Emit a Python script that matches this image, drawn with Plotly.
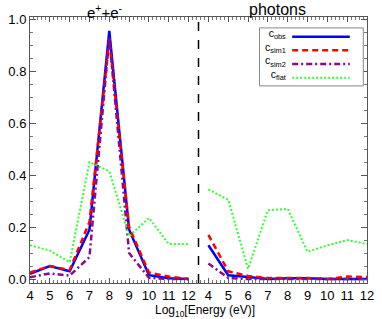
import plotly.graph_objects as go

energy = [4, 5, 6, 7, 8, 9, 10, 11, 12]
tick_labels = ["4", "5", "6", "7", "8", "9", "10", "11", "12"]

# e+ + e- panel
ee_obs = [0.02, 0.05, 0.03, 0.19, 0.955, 0.19, 0.015, 0.003, 0.0]
ee_sim1 = [0.025, 0.05, 0.035, 0.22, 0.92, 0.20, 0.025, 0.01, 0.0]
ee_sim2 = [0.007, 0.022, 0.013, 0.085, 0.93, 0.10, 0.005, 0.0, 0.0]
ee_flat = [0.13, 0.11, 0.065, 0.45, 0.415, 0.165, 0.235, 0.135, 0.135]

# photon panel
ph_obs = [0.13, 0.015, 0.008, 0.0, 0.003, 0.003, 0.0, 0.0, 0.0]
ph_sim1 = [0.17, 0.03, 0.012, 0.004, 0.004, 0.004, 0.0, 0.01, 0.008]
ph_sim2 = [0.06, 0.004, 0.0, 0.0, 0.0, 0.0, 0.0, 0.0, 0.0]
ph_flat = [0.345, 0.305, 0.04, 0.265, 0.27, 0.105, 0.13, 0.15, 0.135]

series = [
    ("c<sub>obs</sub>", ee_obs, ph_obs, "#0000ff", "solid", 2.5),
    ("c<sub>sim1</sub>", ee_sim1, ph_sim1, "#ff0000", "6px,4px", 2.5),
    ("c<sub>sim2</sub>", ee_sim2, ph_sim2, "#8b0a8b", "6px,3px,2px,3px", 2.5),
    ("c<sub>flat</sub>", ee_flat, ph_flat, "#33ff33", "2px,2px", 2),
]

OFFSET_L = -4   # left panel: 4..12 -> 0..8
OFFSET_R = 5    # right panel: 4..12 -> 9..17

fig = go.Figure()
for name, ee, ph, col, dash, w in series:
    fig.add_trace(go.Scatter(x=[e + OFFSET_L for e in energy], y=ee, mode="lines",
                             line=dict(color=col, dash=dash, width=w), showlegend=False))
    fig.add_trace(go.Scatter(x=[e + OFFSET_R for e in energy], y=ph, mode="lines",
                             line=dict(color=col, dash=dash, width=w), showlegend=False))

tickvals = [e + OFFSET_L for e in energy] + [e + OFFSET_R for e in energy]
ticktext = tick_labels + tick_labels

fig.add_vline(x=8.5, line=dict(color="black", dash="dash", width=1.5))

font = "Liberation Sans, Arial, sans-serif"
fig.update_layout(
    width=382, height=319,
    margin=dict(l=23, r=8, t=17, b=36),
    paper_bgcolor="white", plot_bgcolor="white",
    font=dict(family=font, size=13, color="black"),
    xaxis=dict(range=[0, 17], tickmode="array", tickvals=tickvals, ticktext=ticktext,
               showgrid=False, zeroline=False, showline=True, linecolor="#555",
               linewidth=1, mirror="allticks", ticks="inside", ticklen=5,
               tickcolor="#555",
               minor=dict(dtick=0.2, tick0=0, ticks="inside", ticklen=3, tickcolor="#777"),
               tickfont=dict(size=13)),
    yaxis=dict(range=[-0.015, 1.008], tickmode="array",
               tickvals=[0, 0.2, 0.4, 0.6, 0.8, 1.0],
               ticktext=["0.0", "0.2", "0.4", "0.6", "0.8", "1.0"],
               showgrid=False, zeroline=False, showline=True, linecolor="#555",
               linewidth=1, mirror="allticks", ticks="inside", ticklen=6,
               tickcolor="#555",
               minor=dict(dtick=0.05, tick0=0, ticks="inside", ticklen=3, tickcolor="#777"),
               tickfont=dict(size=13)),
)

# panel titles
fig.add_annotation(x=3.8, y=1.0, xref="x", yref="paper", yanchor="bottom",
                   text="e<sup>+</sup>+e<sup>-</sup>", showarrow=False,
                   font=dict(size=15), yshift=-6)
fig.add_annotation(x=12.5, y=1.0, xref="x", yref="paper", yanchor="bottom",
                   text="photons", showarrow=False, font=dict(size=16), yshift=-3)
# x-axis title
fig.add_annotation(x=0.52, y=0, xref="paper", yref="paper", yanchor="top",
                   text="Log<sub>10</sub>[Energy (eV)]", showarrow=False,
                   font=dict(size=12), yshift=-18)

# legend box (manual, label on the left of the line sample)
fig.add_shape(type="rect", xref="paper", yref="paper", x0=0.681, x1=0.989,
              y0=0.741, y1=0.959, line=dict(color="#888", width=1), fillcolor="white")
rows = [0.926, 0.875, 0.823, 0.772]
for (name, ee, ph, col, dash, w), yy in zip(series, rows):
    fig.add_shape(type="line", xref="paper", yref="paper", x0=0.778, x1=0.949,
                  y0=yy, y1=yy, line=dict(color=col, dash=dash, width=w))
fig.add_annotation(x=0.766, y=(rows[0] + rows[-1]) / 2, xref="paper", yref="paper",
                   xanchor="right", yanchor="middle", align="right", yshift=3,
                   text="<br>".join(s[0] for s in series), showarrow=False,
                   font=dict(size=10.5))

fig.write_html("out.html", config={"displayModeBar": False},
               post_script="document.body.style.margin='0';document.body.style.padding='0';")
